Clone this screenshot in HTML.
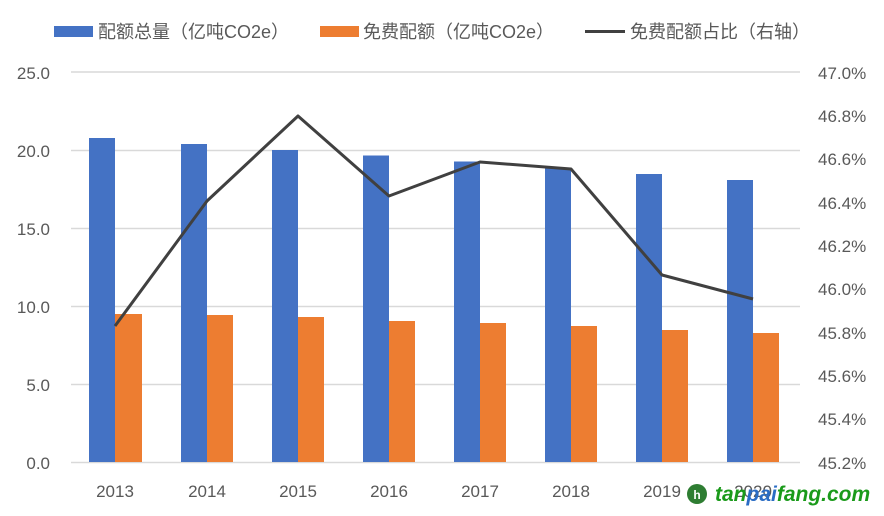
<!DOCTYPE html>
<html><head><meta charset="utf-8"><style>
body{margin:0;background:#fff}
svg{display:block}
text{font-family:"Liberation Sans","Noto Sans CJK SC",sans-serif}
</style></head><body>
<svg width="884" height="516" viewBox="0 0 884 516">
<g stroke="#d9d9d9" stroke-width="1.5">
<line x1="71" y1="72" x2="800" y2="72"/><line x1="71" y1="150.5" x2="800" y2="150.5"/>
<line x1="71" y1="228.5" x2="800" y2="228.5"/><line x1="71" y1="306.5" x2="800" y2="306.5"/>
<line x1="71" y1="384.5" x2="800" y2="384.5"/><line x1="71" y1="462.5" x2="800" y2="462.5"/>
</g>
<g fill="#4472c4">
<rect x="89" y="138" width="26" height="324"/>
<rect x="181" y="144" width="26" height="318"/>
<rect x="272" y="150" width="26" height="312"/>
<rect x="363" y="155.5" width="26" height="306.5"/>
<rect x="454" y="161.5" width="26" height="300.5"/>
<rect x="545" y="167.5" width="26" height="294.5"/>
<rect x="636" y="174" width="26" height="288"/>
<rect x="727" y="180" width="26" height="282"/>
</g>
<g fill="#ed7d31">
<rect x="115" y="314" width="27" height="148"/>
<rect x="207" y="315" width="26" height="147"/>
<rect x="298" y="317" width="26" height="145"/>
<rect x="389" y="321" width="26" height="141"/>
<rect x="480" y="323" width="26" height="139"/>
<rect x="571" y="326" width="26" height="136"/>
<rect x="662" y="330" width="26" height="132"/>
<rect x="753" y="333" width="26" height="129"/>
</g>
<polyline fill="none" stroke="#404040" stroke-width="3" stroke-linejoin="round" points="115,326 207,201 298,116 389,196 480,162 571,169 662,275 753,299"/>
<g font-size="17" fill="#595959" text-anchor="end">
<text x="50" y="79">25.0</text><text x="50" y="157">20.0</text><text x="50" y="235">15.0</text>
<text x="50" y="313">10.0</text><text x="50" y="391">5.0</text><text x="50" y="469">0.0</text>
</g>
<g font-size="17" fill="#595959" text-anchor="start">
<text x="818" y="79">47.0%</text><text x="818" y="122">46.8%</text><text x="818" y="165">46.6%</text>
<text x="818" y="209">46.4%</text><text x="818" y="252">46.2%</text><text x="818" y="295">46.0%</text>
<text x="818" y="339">45.8%</text><text x="818" y="382">45.6%</text><text x="818" y="425">45.4%</text>
<text x="818" y="469">45.2%</text>
</g>
<g font-size="17" fill="#595959" text-anchor="middle">
<text x="115" y="497">2013</text><text x="207" y="497">2014</text><text x="298" y="497">2015</text>
<text x="389" y="497">2016</text><text x="480" y="497">2017</text><text x="571" y="497">2018</text>
<text x="662" y="497">2019</text><text x="753" y="497">2020</text>
</g>
<rect x="54" y="26" width="39" height="11" fill="#4472c4"/>
<text x="98" y="38" font-size="18" fill="#595959">配额总量（亿吨CO2e）</text>
<rect x="320" y="26" width="39" height="11" fill="#ed7d31"/>
<text x="363" y="38" font-size="18" fill="#595959">免费配额（亿吨CO2e）</text>
<line x1="585" y1="31.5" x2="625" y2="31.5" stroke="#404040" stroke-width="3"/>
<text x="630" y="38" font-size="18" fill="#595959">免费配额占比（右轴）</text>
<circle cx="697" cy="494" r="10" fill="#2e7d32"/>
<text x="697" y="499" font-size="12" fill="#fff" text-anchor="middle" font-weight="bold">h</text>
<text x="715" y="501" font-size="21" font-weight="bold" font-style="italic" fill="#1a9a1a">tan<tspan fill="#2a6cc4">pai</tspan>fang.com</text>
</svg>
</body></html>
